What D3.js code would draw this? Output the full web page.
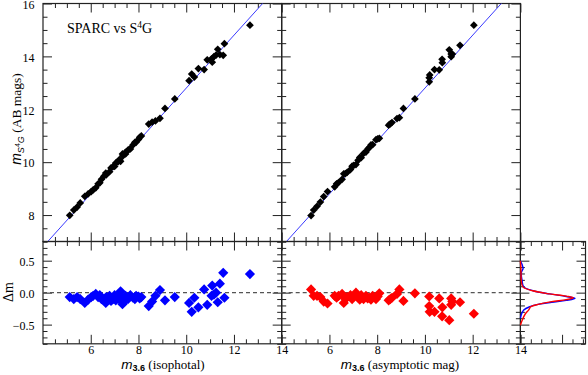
<!DOCTYPE html>
<html>
<head>
<meta charset="utf-8">
<script src="https://cdn.jsdelivr.net/npm/d3@7"></script>
<style>
  body { margin: 0; background: #fff; }
  svg { display: block; }
</style>
</head>
<body>
<div id="chart"></div>
<script>
// SPARC isophotal m3.6 vs Δm, and S4G magnitude (top panel)
const isoM36 = [5.12, 5.29, 5.43, 5.56, 5.75, 5.89, 6.02, 6.10, 6.21, 6.31, 6.38, 6.45, 6.55, 6.63, 6.65, 6.79, 6.85, 6.93, 7.00, 7.05,
                7.14, 7.20, 7.25, 7.33, 7.35, 7.45, 7.46, 7.56, 7.62, 7.66, 7.77, 7.85, 7.90, 8.00, 8.05, 8.12, 8.43, 8.57, 8.71, 8.90,
                9.11, 9.52, 10.12, 10.23, 10.34, 10.51, 10.75, 10.88, 11.06, 11.09, 11.16, 11.25, 11.32, 11.41, 11.55, 11.60, 12.67];
const isoDm  = [-0.07, -0.10, -0.07, -0.10, -0.16, -0.11, -0.07, -0.05, -0.02, -0.07, -0.04, -0.10, -0.12, -0.16, -0.07, -0.05, -0.13, -0.10, -0.04, -0.12,
                -0.07, -0.10, 0.02, -0.18, -0.09, -0.12, -0.05, -0.10, -0.07, -0.04, -0.08, -0.10, -0.05, -0.06, -0.09, -0.07, -0.21, -0.14, -0.05, 0.04,
                -0.12, -0.07, -0.16, -0.30, -0.08, -0.23, 0.05, -0.19, -0.05, 0.11, -0.03, 0.00, -0.15, 0.14, 0.31, -0.08, 0.29];
const isoS4G = [7.99, 8.19, 8.30, 8.46, 8.71, 8.80, 8.89, 8.95, 9.03, 9.18, 9.22, 9.35, 9.47, 9.59, 9.52, 9.64, 9.78, 9.83, 9.84, 9.97,
                10.01, 10.10, 10.03, 10.31, 10.24, 10.37, 10.31, 10.46, 10.49, 10.50, 10.65, 10.75, 10.75, 10.86, 10.94, 10.99, 11.44, 11.51, 11.56, 11.66,
                12.03, 12.39, 13.08, 13.33, 13.22, 13.54, 13.50, 13.87, 13.91, 13.78, 13.99, 14.05, 14.27, 14.07, 14.04, 14.48, 15.18];

// SPARC asymptotic m3.6 vs Δm, and S4G magnitude (top panel)
const asyM36 = [5.23, 5.34, 5.48, 5.62, 5.76, 5.92, 6.22, 6.30, 6.38, 6.53, 6.60, 6.67, 6.74, 6.88, 6.95, 7.02, 7.11, 7.20, 7.27, 7.33,
                7.43, 7.53, 7.60, 7.67, 7.74, 7.81, 7.95, 8.02, 8.09, 8.48, 8.55, 8.62, 8.83, 8.93, 9.10, 9.58, 10.18, 10.18, 10.20, 10.40,
                10.60, 10.72, 10.73, 11.02, 11.10, 11.10, 11.15, 11.47, 12.05];
const asyDm  = [0.05, -0.05, -0.05, -0.07, -0.14, -0.17, -0.05, -0.08, -0.05, -0.02, -0.16, -0.10, -0.07, -0.04, -0.10, -0.06, 0.00, -0.07, -0.11, -0.04,
                -0.10, -0.05, -0.09, -0.08, -0.11, -0.05, -0.10, -0.06, -0.01, -0.12, -0.10, -0.08, -0.02, 0.05, -0.13, -0.01, -0.06, -0.21, -0.30, -0.30,
                -0.09, -0.37, -0.23, -0.43, -0.09, -0.19, -0.14, -0.15, -0.33];
const asyS4G = [7.98, 8.19, 8.33, 8.49, 8.70, 8.89, 9.07, 9.18, 9.23, 9.35, 9.56, 9.57, 9.61, 9.72, 9.85, 9.88, 9.91, 10.07, 10.18, 10.17,
                10.33, 10.38, 10.49, 10.55, 10.65, 10.66, 10.85, 10.88, 10.90, 11.40, 11.45, 11.50, 11.65, 11.68, 12.03, 12.39, 13.04, 13.19, 13.30, 13.50,
                13.49, 13.89, 13.76, 14.25, 13.99, 14.09, 14.09, 14.42, 15.18];

// distributions of Δm (right panel): Δm level and density
const kdeIsoDm   = [0.50, 0.44, 0.38, 0.32, 0.25, 0.19, 0.09, 0.03, -0.02, -0.06, -0.09, -0.12, -0.15, -0.18, -0.22, -0.27, -0.33, -0.40];
const kdeIsoDens = [0.00, 0.08, 0.13, 0.05, 0.05, 0.08, 0.16, 0.60, 1.40, 2.20, 2.62, 2.20, 1.50, 0.90, 0.45, 0.16, 0.06, 0.00];
const kdeAsyDm   = [0.50, 0.40, 0.30, 0.20, 0.09, 0.03, -0.02, -0.055, -0.08, -0.11, -0.14, -0.18, -0.22, -0.27, -0.33, -0.42, -0.51];
const kdeAsyDens = [0.00, 0.02, 0.03, 0.04, 0.12, 0.60, 1.40, 2.20, 2.54, 2.20, 1.50, 0.90, 0.50, 0.40, 0.24, 0.10, 0.00];

const abOffset = 2.8; // 1:1 line (Vega -> AB)

const xMajor = [6, 8, 10, 12, 14];
const yTopMajor = [8, 10, 12, 14, 16];
const dmMajor = [-0.5, 0, 0.5];
const densMajor = [0, 2];

const W = 588, H = 375;
const L = 43, PW = 238.7, T = 3.5, MID = 241.5, B = 343.8;
const M0 = L + PW, M1 = L + 2 * PW, R1 = 585.5;
const serif = '"Liberation Serif", "Times New Roman", serif';
const sans = '"Liberation Sans", Arial, sans-serif';
const axisColor = '#222';

const svg = d3.select('#chart').append('svg')
    .attr('width', W).attr('height', H)
    .attr('viewBox', '0 0 ' + W + ' ' + H);

const xIso = d3.scaleLinear().domain([4, 14]).range([L, M0]);
const xAsy = d3.scaleLinear().domain([4, 14]).range([M0, M1]);
const xDens = d3.scaleLinear().domain([0, 3.125]).range([M1, R1]);
const yTop = d3.scaleLinear().domain([7, 16]).range([MID, T]);
const yDm = d3.scaleLinear().domain([-0.8, 0.8]).range([B, MID]);

const steps = (a, b, s) => d3.range(Math.round(a / s), Math.round(b / s) + 1).map(i => +(i * s).toFixed(3));
const xMinor = steps(4, 14, 0.5).filter(v => v % 2 !== 0);
const yTopMinor = steps(7, 16, 0.5).filter(v => v % 2 !== 0);
const dmMinor = steps(-0.8, 0.8, 0.1).filter(v => Math.abs(Math.round(v * 10)) % 5 !== 0);
const densMinor = steps(0, 3, 0.5).filter(v => v % 2 !== 0);

function tickSet(g, scale, orient, pos, vals, len, fmt, pad) {
    const make = {bottom: d3.axisBottom, top: d3.axisTop, left: d3.axisLeft, right: d3.axisRight}[orient];
    const axis = make(scale).tickValues(vals).tickSize(-len)
        .tickPadding(pad || 0).tickFormat(fmt || (() => ''));
    const horiz = orient === 'bottom' || orient === 'top';
    const a = g.append('g')
        .attr('transform', horiz ? 'translate(0,' + pos + ')' : 'translate(' + pos + ',0)')
        .call(axis);
    a.select('.domain').remove();
    a.selectAll('line').attr('stroke', axisColor).attr('stroke-width', 1);
    a.selectAll('text').attr('fill', '#000')
        .style('font-family', serif).style('font-size', '12px');
    if (orient === 'left') a.selectAll('text').attr('dy', '0.4em');
}

function frame(x, y, opt) {
    const g = svg.append('g');
    const [x0, x1] = x.range(), [y0, y1] = y.range();
    tickSet(g, x, 'bottom', y0, opt.xMaj, 9, opt.xFmt, 2);
    tickSet(g, x, 'bottom', y0, opt.xMin, 4.5);
    tickSet(g, x, 'top', y1, opt.xMaj, 9);
    tickSet(g, x, 'top', y1, opt.xMin, 4.5);
    tickSet(g, y, 'left', x0, opt.yMaj, 9, opt.yFmt, 8.5);
    tickSet(g, y, 'left', x0, opt.yMin, 4.5);
    tickSet(g, y, 'right', x1, opt.yMaj, 9);
    tickSet(g, y, 'right', x1, opt.yMin, 4.5);
    g.append('rect')
        .attr('x', x0).attr('y', y1)
        .attr('width', x1 - x0).attr('height', y0 - y1)
        .attr('fill', 'none').attr('stroke', axisColor).attr('stroke-width', 1.2);
    return g;
}

const diamond = d3.symbol().type(d3.symbolSquare);

function points(xs, ys, x, y, color, size) {
    svg.append('g').selectAll('path')
        .data(d3.zip(xs, ys))
        .join('path')
        .attr('d', diamond.size(size)())
        .attr('transform', d => 'translate(' + x(d[0]) + ',' + y(d[1]) + ') rotate(45)')
        .attr('fill', color);
}

function oneToOne(x, y, id) {
    svg.append('clipPath').attr('id', id)
        .append('rect')
        .attr('x', x.range()[0]).attr('y', y.range()[1])
        .attr('width', x.range()[1] - x.range()[0])
        .attr('height', y.range()[0] - y.range()[1]);
    svg.append('path')
        .datum(x.domain())
        .attr('clip-path', 'url(#' + id + ')')
        .attr('d', d3.line().x(d => x(d)).y(d => y(d + abOffset)))
        .attr('fill', 'none').attr('stroke', '#3a3aff').attr('stroke-width', 1);
}

function zeroLine(x) {
    svg.append('path')
        .datum(x.domain())
        .attr('d', d3.line().x(d => x(d)).y(() => yDm(0)))
        .attr('stroke', '#555').attr('stroke-width', 1.4)
        .attr('stroke-dasharray', '4,3');
}

const f1 = d3.format('.1f');

// top panels
frame(xIso, yTop, {xMaj: xMajor, xMin: xMinor, yMaj: yTopMajor, yMin: yTopMinor, yFmt: d3.format('d')});
frame(xAsy, yTop, {xMaj: xMajor, xMin: xMinor, yMaj: yTopMajor, yMin: yTopMinor});
oneToOne(xIso, yTop, 'clipTL');
oneToOne(xAsy, yTop, 'clipTM');
points(isoM36, isoS4G, xIso, yTop, '#000', 30);
points(asyM36, asyS4G, xAsy, yTop, '#000', 30);

// residual panels
frame(xIso, yDm, {xMaj: xMajor, xMin: xMinor, xFmt: d3.format('d'), yMaj: dmMajor, yMin: dmMinor, yFmt: f1});
frame(xAsy, yDm, {xMaj: xMajor, xMin: xMinor, xFmt: d3.format('d'), yMaj: dmMajor, yMin: dmMinor});
frame(xDens, yDm, {xMaj: densMajor, xMin: densMinor, yMaj: dmMajor, yMin: dmMinor});
zeroLine(xIso);
zeroLine(xAsy);
points(isoM36, isoDm, xIso, yDm, '#0000ff', 52);
points(asyM36, asyDm, xAsy, yDm, '#ff0000', 52);

const kdeLine = d3.line()
    .x(d => xDens(d[1])).y(d => yDm(d[0]))
    .curve(d3.curveCatmullRom);
svg.append('path').datum(d3.zip(kdeIsoDm, kdeIsoDens))
    .attr('d', kdeLine).attr('fill', 'none').attr('stroke', '#0000ff').attr('stroke-width', 1.4);
svg.append('path').datum(d3.zip(kdeAsyDm, kdeAsyDens))
    .attr('d', kdeLine).attr('fill', 'none').attr('stroke', '#ff0000').attr('stroke-width', 1.4);

// labels
const ann = svg.append('text')
    .attr('x', 67).attr('y', 33)
    .style('font-family', serif).style('font-size', '14px');
ann.append('tspan').text('SPARC vs S');
ann.append('tspan').attr('dy', -5).style('font-size', '9.5px').text('4');
ann.append('tspan').attr('dy', 5).text('G');

function xLabel(cx, rest) {
    const t = svg.append('text')
        .attr('x', cx).attr('y', 368.5)
        .attr('text-anchor', 'middle')
        .style('font-family', serif).style('font-size', '13px');
    t.append('tspan').style('font-family', sans).style('font-style', 'italic').style('font-size', '13.5px').text('m');
    t.append('tspan').attr('dy', 2.5).style('font-family', sans).style('font-weight', 'bold').style('font-size', '9px').text('3.6');
    t.append('tspan').attr('dy', -2.5).text(' ' + rest);
}
xLabel(163, '(isophotal)');
xLabel(400, '(asymptotic mag)');

const yl = svg.append('text')
    .attr('transform', 'translate(20.5,119) rotate(-90)')
    .attr('text-anchor', 'middle')
    .style('font-family', serif).style('font-size', '13.5px');
yl.append('tspan').style('font-family', sans).style('font-style', 'italic').style('font-size', '14px').text('m');
yl.append('tspan').attr('dy', 3).style('font-family', sans).style('font-style', 'italic').style('font-size', '9px').text('S');
yl.append('tspan').attr('dy', -4).style('font-family', sans).style('font-size', '7px').text('4');
yl.append('tspan').attr('dy', 4).style('font-family', sans).style('font-style', 'italic').style('font-size', '9px').text('G');
yl.append('tspan').attr('dy', -3).text(' (AB mags)');

svg.append('text')
    .attr('transform', 'translate(12.5,292) rotate(-90)')
    .attr('text-anchor', 'middle')
    .style('font-family', serif).style('font-size', '14px')
    .text('Δm');
</script>
</body>
</html>
